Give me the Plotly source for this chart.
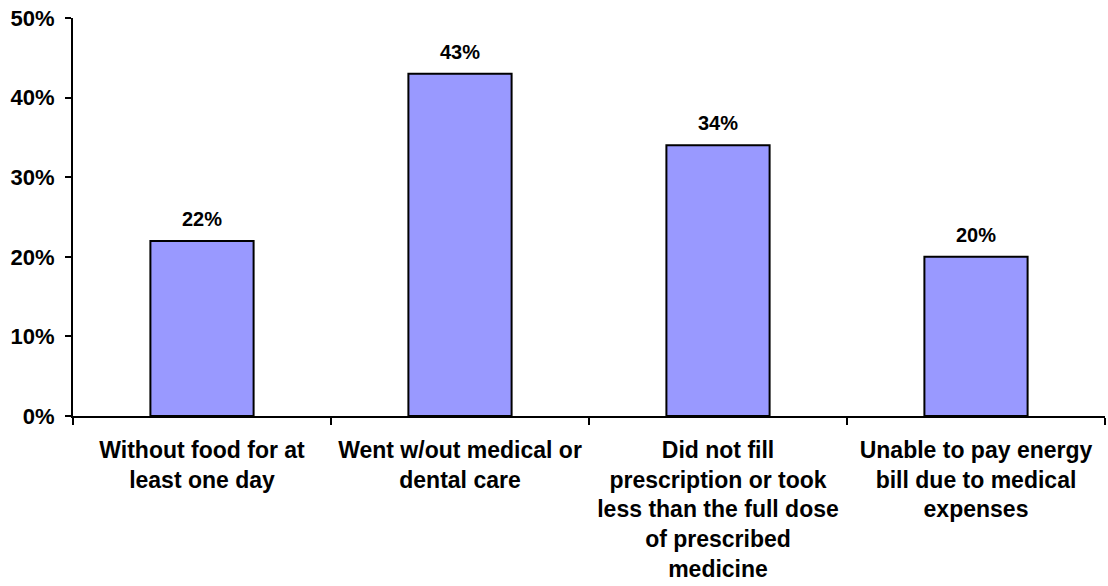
import plotly.graph_objects as go

categories = [
    "Without food for at<br>least one day",
    "Went w/out medical or<br>dental care",
    "Did not fill<br>prescription or took<br>less than the full dose<br>of prescribed<br>medicine",
    "Unable to pay energy<br>bill due to medical<br>expenses",
]
values = [22, 43, 34, 20]
y_ticks = [0, 10, 20, 30, 40, 50]
y_tick_labels = [f"{v}%" for v in y_ticks]

FONT = "Liberation Sans, Arial, sans-serif"

fig = go.Figure(
    go.Bar(
        x=categories,
        y=values,
        width=0.4,
        marker=dict(color="#9999FF", line=dict(color="black", width=2)),
        hoverinfo="skip",
    )
)

for cat, v in zip(categories, values):
    fig.add_annotation(
        x=cat, y=v, text=f"<b>{v}%</b>", showarrow=False,
        yanchor="bottom", yshift=9,
        font=dict(family=FONT, size=20, color="black"),
    )

fig.update_layout(
    width=1108, height=586,
    margin=dict(l=73, r=3, t=18, b=170),
    plot_bgcolor="white", paper_bgcolor="white",
    showlegend=False,
    bargap=0.6,
)

fig.update_xaxes(
    showline=True, linecolor="black", linewidth=2,
    ticks="outside", tickson="boundaries", ticklen=7, tickwidth=2, tickcolor="black",
    tickfont=dict(family=FONT, size=23, color="black", weight="bold"),
    ticklabelstandoff=12,
    showgrid=False, zeroline=False, tickangle=0,
)
fig.update_yaxes(
    range=[0, 50], tickvals=y_ticks, ticktext=y_tick_labels,
    showline=True, linecolor="black", linewidth=2,
    ticks="outside", ticklen=6, tickwidth=2, tickcolor="black",
    tickfont=dict(family=FONT, size=22, color="black", weight="bold"),
    ticklabelstandoff=6,
    showgrid=False, zeroline=False,
)

fig.write_html("out.html")
